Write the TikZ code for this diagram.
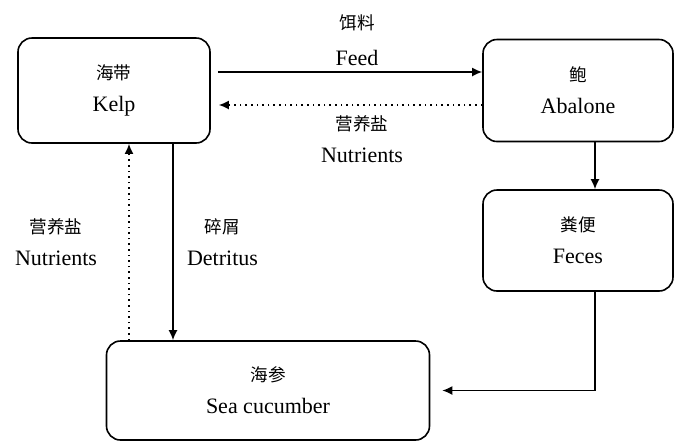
\documentclass[tikz,border=0pt]{standalone}
\usepackage{fontspec}
\setmainfont{Liberation Serif}
\newfontfamily\cjk{Noto Sans CJK SC}
\newcommand{\zh}[1]{{\cjk\fontsize{8.8}{16}\selectfont #1}}
\usetikzlibrary{arrows.meta}

\begin{document}
\begin{tikzpicture}[line width=0.8pt, >={Latex[length=5pt,width=4.5pt]},
    font=\fontsize{11}{16}\selectfont,
    box/.style={draw,rectangle,rounded corners=7pt,align=center,minimum width=95pt,minimum height=51pt}]
        \useasboundingbox (0,0) rectangle (337.5pt,-220.5pt);
        \node[box,minimum width=96pt,minimum height=52.5pt] (kelp) at (57pt,-45.25pt) {\zh{海带}\\Kelp};
         \node[box,right of=kelp, node distance=232pt] (abalone) {\zh{鲍}\\Abalone};
         \node[box,minimum height=50.5pt,below of=abalone, node distance=75pt] (feces) {\zh{粪便}\\Feces};
         \node[box,minimum width=161.5pt,minimum height=49.5pt,below of=kelp, node distance=150pt, xshift=77pt] (seacuc) {\zh{海参}\\Sea cucumber};

        \node[align=center] (feed) at (178.5pt,-20pt) {\zh{饵料}\\[2pt]Feed};
        \node[align=center] (nutr) at (181pt,-69.5pt) {\zh{营养盐}\\Nutrients};
        \node[align=center] (nutrleft) at (28pt,-121.25pt) {\zh{营养盐}\\Nutrients};
        \node[align=center] (detr) at (111.25pt,-121.25pt) {\zh{碎屑}\\Detritus};

         \draw[->,shorten <=3.5pt] ([yshift=9.25pt]kelp.east) to ([yshift=9.25pt]kelp.east -| abalone.west);
        \draw[->,dotted,shorten >=4pt] ([yshift=-7.25pt]kelp.east -| abalone.west) to ([yshift=-7.25pt]kelp.east);
        \draw[->] ([xshift=8.5pt]abalone.south) to ([xshift=8.5pt]feces.north);
        \draw[->,shorten >=6pt] ([xshift=8.5pt]feces.south) |- (seacuc.east);
        \draw[->] ([xshift=29.5pt]kelp.south) to ([xshift=29.5pt]kelp.south |- seacuc.north);
        \draw[->,dotted] ([xshift=7.5pt]kelp.south |- seacuc.north) to ([xshift=7.5pt]kelp.south);
     
      \end{tikzpicture}
\end{document}
